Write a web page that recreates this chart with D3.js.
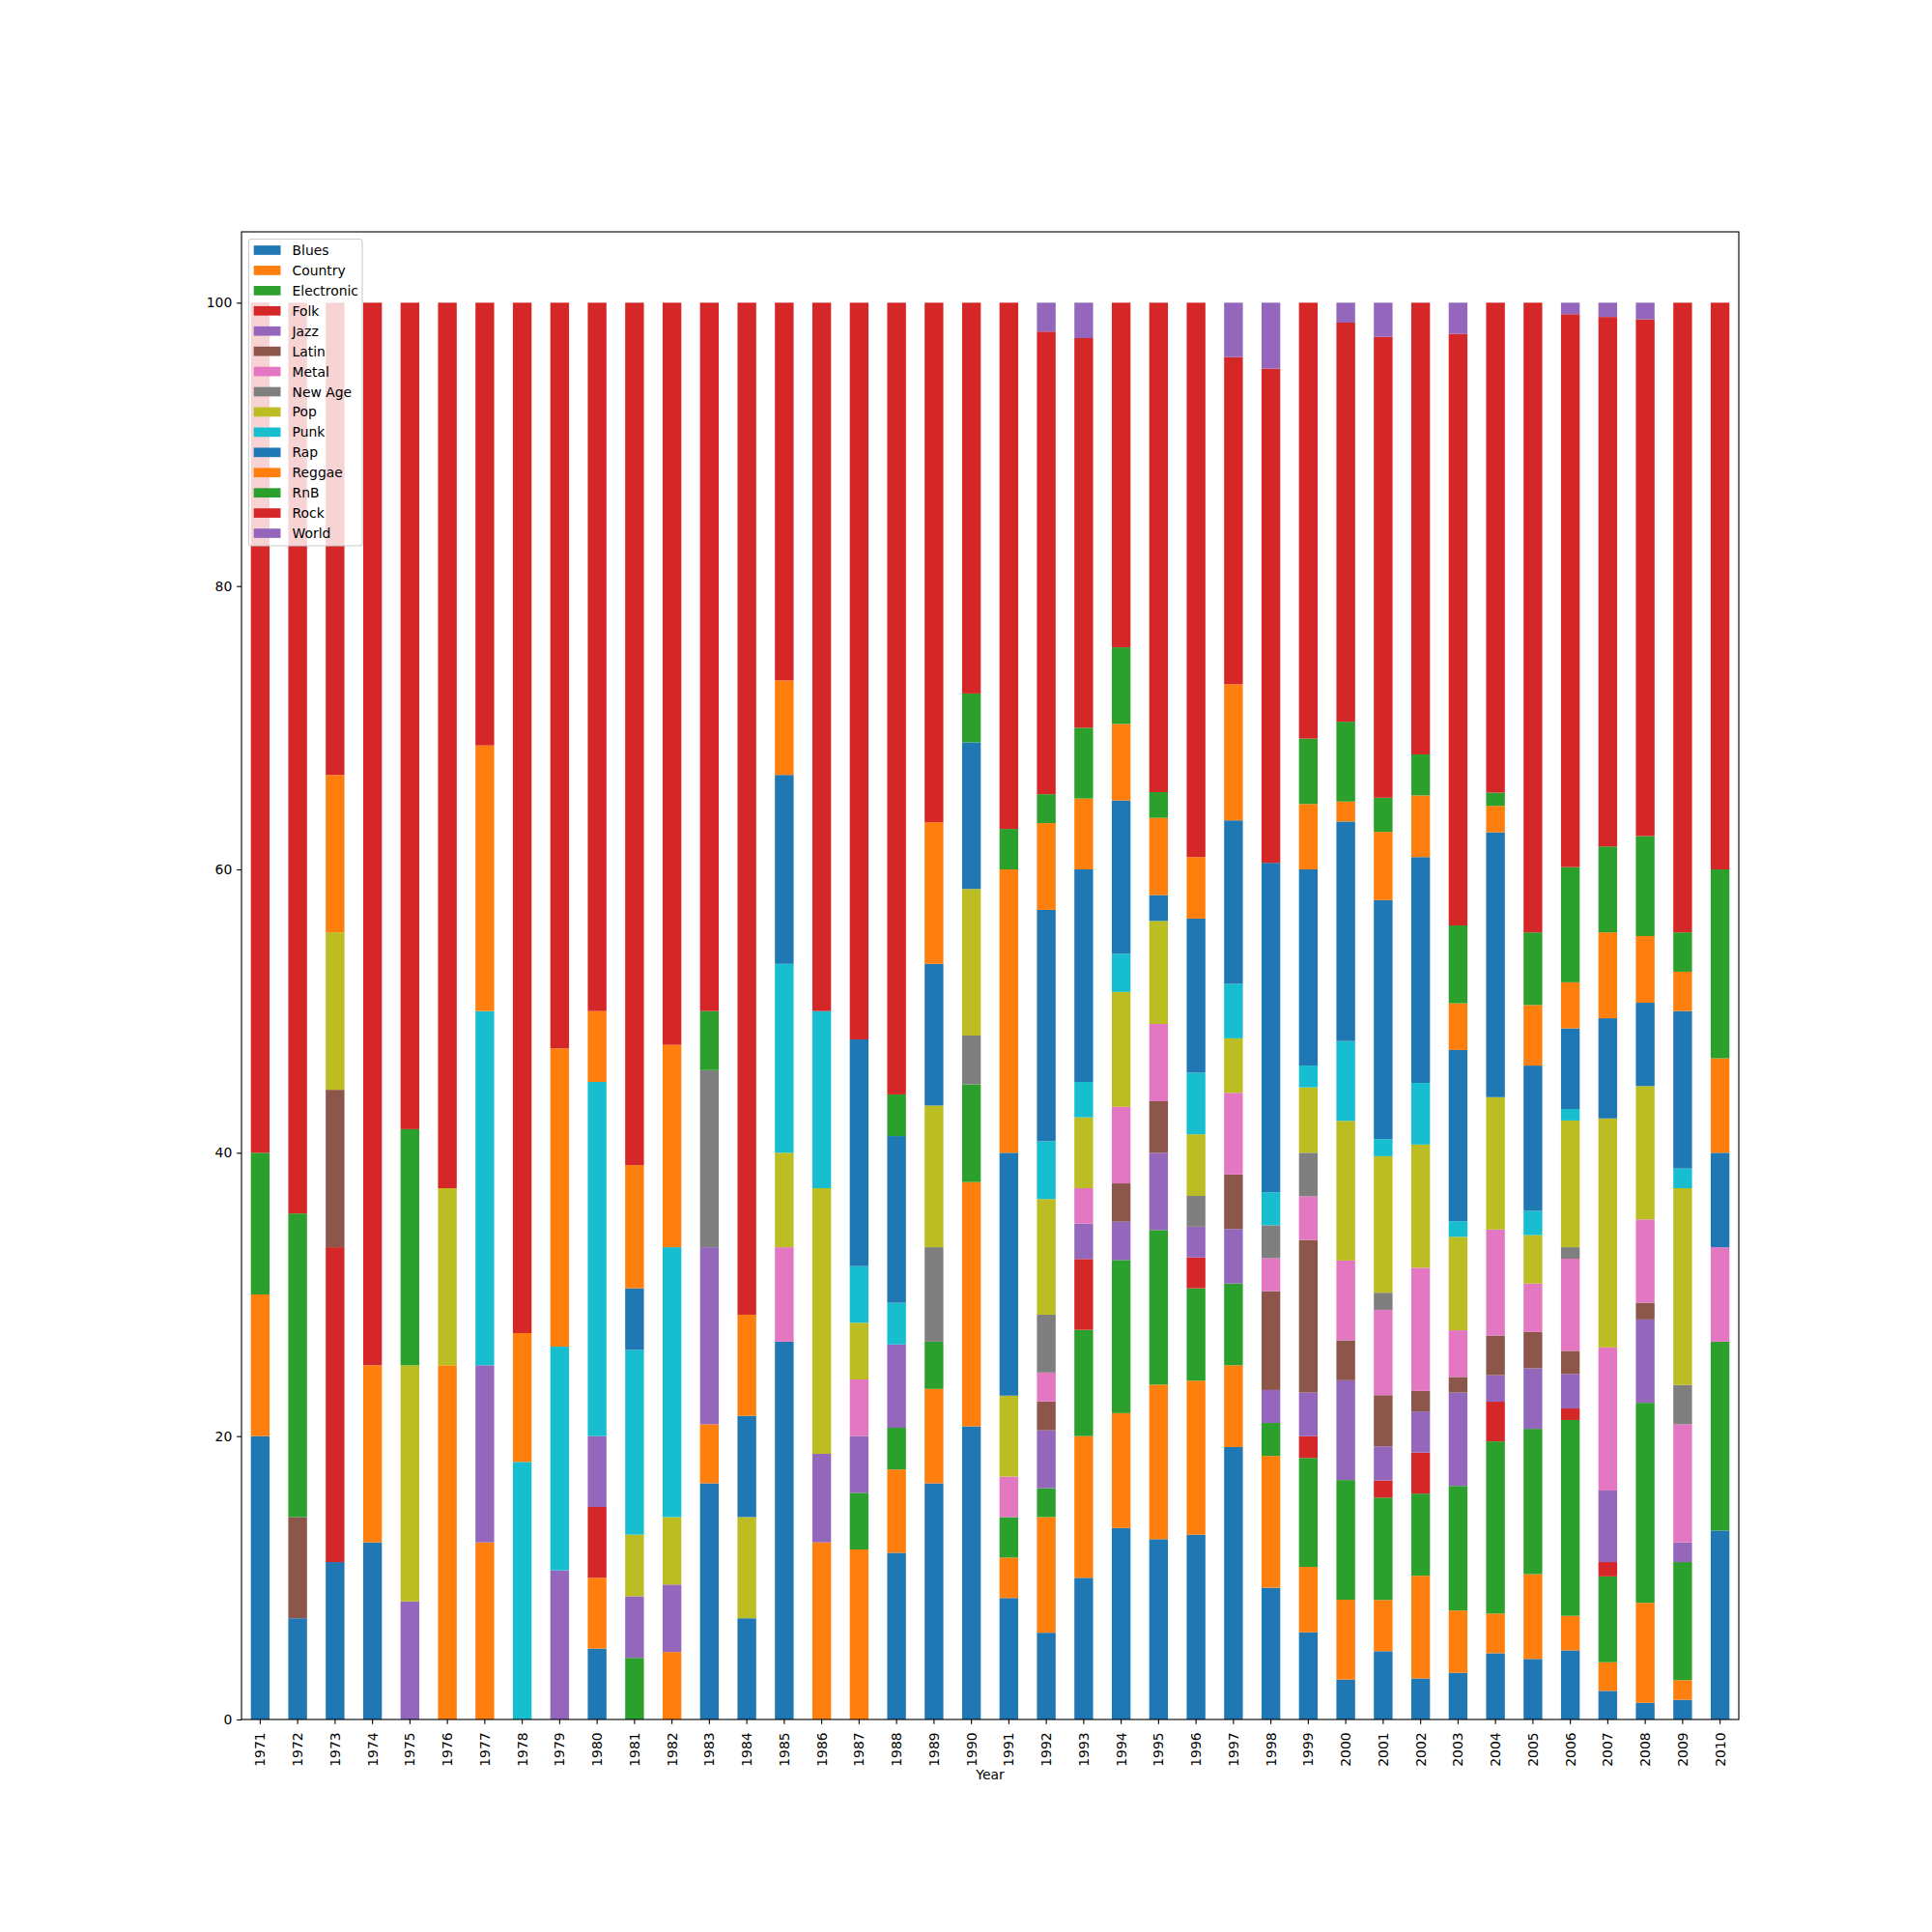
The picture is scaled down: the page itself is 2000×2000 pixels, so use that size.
<!DOCTYPE html>
<html><head><meta charset="utf-8">
<script src="https://cdn.jsdelivr.net/npm/d3@7"></script>
<style>body{margin:0;background:#fff} text{font-family:"DejaVu Sans",sans-serif}</style>
</head><body><svg id="chart" width="2000" height="2000"></svg>
<script>
const years = [1971,1972,1973,1974,1975,1976,1977,1978,1979,1980,1981,1982,1983,1984,1985,1986,1987,1988,1989,1990,
               1991,1992,1993,1994,1995,1996,1997,1998,1999,2000,2001,2002,2003,2004,2005,2006,2007,2008,2009,2010];
const genres = ["Blues","Country","Electronic","Folk","Jazz","Latin","Metal","New Age","Pop","Punk","Rap","Reggae","RnB","Rock","World"];
const yTicks = [0,20,40,60,80,100];

// song counts per genre and year (shown as % share of each year)
const blues      = [2,1,1,1,0,0,0,0,0,1,0,0,4,1,4,0,0,4,5,6,3,3,4,5,7,6,10,4,4,2,4,2,3,5,5,6,2,1,1,2];
const country    = [1,0,0,1,0,2,2,0,0,1,0,1,1,0,0,2,3,2,2,5,1,4,4,3,6,5,3,4,3,4,3,5,4,3,7,3,2,6,1,0];
const electronic = [0,0,0,0,0,0,0,0,0,0,1,0,0,0,0,0,1,1,1,2,1,1,3,4,6,3,3,1,5,6,6,4,8,13,12,17,6,12,6,2];
const folk       = [0,0,2,0,0,0,0,0,0,1,0,0,0,0,0,0,0,0,0,0,0,0,2,0,0,1,0,0,1,0,1,2,0,3,0,1,1,0,0,0];
const jazz       = [0,0,0,0,1,0,2,0,2,1,1,1,3,0,0,1,1,2,0,0,0,2,1,1,3,1,2,1,2,5,2,2,6,2,5,3,5,5,1,0];
const latin      = [0,1,1,0,0,0,0,0,0,0,0,0,0,0,0,0,0,0,0,0,0,1,0,1,2,0,2,3,7,2,3,1,1,3,3,2,0,1,0,0];
const metal      = [0,0,0,0,0,0,0,0,0,0,0,0,0,0,1,0,1,0,0,0,1,1,1,2,3,0,3,1,2,4,5,6,3,8,4,8,10,5,6,1];
const newAge     = [0,0,0,0,0,0,0,0,0,0,0,0,3,0,0,0,0,0,2,1,0,2,0,0,0,1,0,1,2,0,1,0,0,0,0,1,0,0,2,0];
const pop        = [0,0,1,0,2,1,0,0,0,0,1,1,0,1,1,3,1,0,3,3,2,4,2,3,4,2,2,0,3,7,8,6,6,10,4,11,16,8,10,0];
const punk       = [0,0,0,0,0,0,4,2,3,5,3,4,0,0,2,2,1,1,0,0,0,2,1,1,0,2,2,1,1,4,1,3,1,0,2,1,0,0,1,0];
const rap        = [0,0,0,0,0,0,0,0,0,0,1,0,0,1,2,0,4,4,3,3,6,8,6,4,1,5,6,10,9,11,14,11,11,20,12,7,7,5,8,1];
const reggae     = [0,0,1,0,0,0,3,1,4,1,2,3,0,1,1,0,0,0,3,0,7,3,2,2,3,2,5,0,3,1,4,3,3,2,5,4,6,4,2,1];
const rnb        = [1,3,0,0,2,0,0,0,0,0,0,0,1,0,0,0,0,1,0,1,1,1,2,2,1,0,0,0,3,4,2,2,5,1,6,10,6,6,2,2];
const rock       = [6,9,3,6,7,5,5,8,10,10,14,11,12,10,4,8,13,19,11,8,13,16,11,9,19,18,12,15,20,20,27,22,38,37,52,48,37,31,32,6];
const world      = [0,0,0,0,0,0,0,0,0,0,0,0,0,0,0,0,0,0,0,0,0,1,1,0,0,0,2,2,0,1,2,0,2,0,0,1,1,1,0,0];

const colors = ["#1f77b4","#ff7f0e","#2ca02c","#d62728","#9467bd","#8c564b","#e377c2","#7f7f7f","#bcbd22","#17becf",
                "#1f77b4","#ff7f0e","#2ca02c","#d62728","#9467bd"];

const counts = {"Blues":blues,"Country":country,"Electronic":electronic,"Folk":folk,"Jazz":jazz,"Latin":latin,
  "Metal":metal,"New Age":newAge,"Pop":pop,"Punk":punk,"Rap":rap,"Reggae":reggae,"RnB":rnb,"Rock":rock,"World":world};

const rows = years.map((yr, i) => {
  const total = genres.reduce((s, g) => s + counts[g][i], 0);
  const r = {year: yr};
  genres.forEach(g => r[g] = counts[g][i] / total * 100);
  return r;
});
const series = d3.stack().keys(genres)(rows);

const L = 250, R = 1800, T = 240, B = 1780;
const FS = 13.9, TICK = 4.86;
const svg = d3.select("#chart");
const x = d3.scaleBand().domain(years).range([L, R]).paddingInner(0.5).paddingOuter(0.25);
const y = d3.scaleLinear().domain([0, 105]).range([B, T]);
const color = d3.scaleOrdinal().domain(genres).range(colors);

svg.append("rect").attr("width", 2000).attr("height", 2000).attr("fill", "#fff");

const g = svg.append("g");
g.selectAll("g.s").data(series).join("g").attr("class", "s")
  .attr("fill", d => color(d.key))
  .selectAll("rect").data(d => d.filter(p => p[1] - p[0] > 1e-9)).join("rect")
  .attr("x", d => x(d.data.year))
  .attr("width", x.bandwidth())
  .attr("y", d => y(d[1]))
  .attr("height", d => y(d[0]) - y(d[1]));

// axes
const ya = svg.append("g").attr("transform", `translate(${L},0)`)
  .call(d3.axisLeft(y).tickValues(yTicks).tickSize(TICK).tickPadding(4.86).tickFormat(d3.format("d")));
const xa = svg.append("g").attr("transform", `translate(0,${B})`)
  .call(d3.axisBottom(x).tickSize(TICK).tickPadding(4.86));
[ya, xa].forEach(a => {
  a.select(".domain").remove();
  a.selectAll("line").attr("stroke", "#000").attr("stroke-width", 1.11);
  a.selectAll("text").attr("fill", "#000").style("font-size", FS + "px").style("font-family", "DejaVu Sans");
});
xa.selectAll("text")
  .attr("transform", "rotate(-90)")
  .attr("text-anchor", "end")
  .attr("x", -(TICK + 8.5))
  .attr("y", 0)
  .attr("dy", "0.35em");

svg.append("rect").attr("x", L).attr("y", T).attr("width", R - L).attr("height", B - T)
  .attr("fill", "none").attr("stroke", "#000").attr("stroke-width", 1.11);

svg.append("text").attr("x", (L + R) / 2).attr("y", 1842).attr("text-anchor", "middle")
  .style("font-size", FS + "px").text("Year");

// legend
const lg = svg.append("g");
lg.append("rect").attr("x", 257.5).attr("y", 247.5).attr("width", 117.5).attr("height", 317.5)
  .attr("rx", 2.8).attr("fill", "#fff").attr("fill-opacity", 0.8)
  .attr("stroke", "#cccccc").attr("stroke-width", 1.11);
const items = lg.selectAll("g.it").data(genres).join("g").attr("class", "it")
  .attr("transform", (d, i) => `translate(0,${259 + i * 20.93})`);
items.append("rect").attr("x", 262.7).attr("y", -4.85).attr("width", 27.8).attr("height", 9.7)
  .attr("fill", d => color(d));
items.append("text").attr("x", 302.5).attr("y", 0).attr("dy", "0.36em")
  .style("font-size", FS + "px").text(d => d);
</script></body></html>
